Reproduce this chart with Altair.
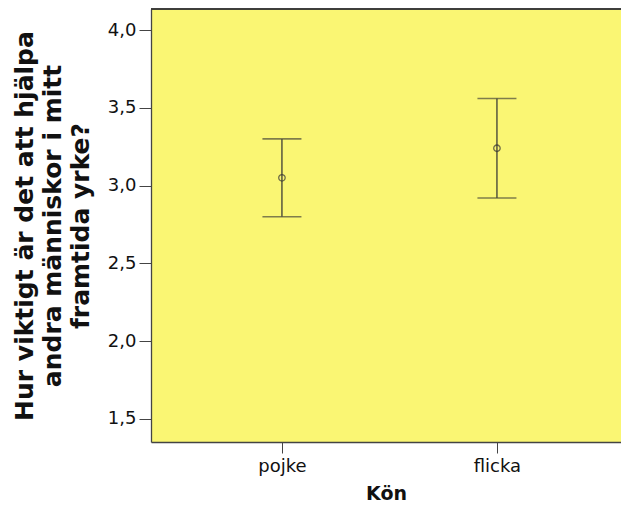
import altair as alt
import pandas as pd

categories = ["pojke", "flicka"]
means = [3.05, 3.24]
lower = [2.80, 2.92]
upper = [3.30, 3.56]

df = pd.DataFrame({"idx": list(range(len(categories))), "Kön": categories,
                   "mean": means, "lo": lower, "hi": upper})

W, H = 470, 433
line_col = "#4a4a3a"
label_expr = "[" + ",".join(f"'{c}'" for c in categories) + "][datum.value]"
x = alt.X("idx:Q",
          scale=alt.Scale(domain=[-0.609, 1.577], nice=False, zero=False),
          axis=alt.Axis(title="Kön", values=list(range(len(categories))),
                        labelExpr=label_expr, labelAngle=0, tickSize=11,
                        labelPadding=4, grid=False,
                        titleFontSize=19, titlePadding=9))
yscale = alt.Scale(domain=[1.352, 4.135], nice=False, zero=False)
yaxis = alt.Axis(title=["Hur viktigt är det att hjälpa", "andra människor i mitt", "framtida yrke?"],
                 values=[1.5, 2.0, 2.5, 3.0, 3.5, 4.0],
                 labelExpr="replace(format(datum.value, '.1f'), '.', ',')",
                 tickSize=12, labelPadding=3, grid=False,
                 titleFontSize=25, titleLineHeight=28, titleLimit=600,
                 titleX=-127, titleBaseline="middle")

base = alt.Chart(df)
rule = base.mark_rule(color=line_col, strokeWidth=1.4).encode(
    x=x, y=alt.Y("lo:Q", scale=yscale, axis=yaxis), y2="hi:Q")
tick_hi = base.mark_tick(color=line_col, size=39, thickness=1.6, orient="horizontal").encode(
    x=x, y=alt.Y("hi:Q", scale=yscale, axis=yaxis))
tick_lo = base.mark_tick(color=line_col, size=39, thickness=1.6, orient="horizontal").encode(
    x=x, y=alt.Y("lo:Q", scale=yscale, axis=yaxis))
pt = base.mark_point(filled=False, color="#333", size=42, strokeWidth=1.3).encode(
    x=x, y=alt.Y("mean:Q", scale=yscale, axis=yaxis))
top_border = alt.Chart(df).mark_rule(color="#333", strokeWidth=1.5).encode(
    x=alt.value(0), x2=alt.value(W), y=alt.value(0))

chart = alt.layer(rule, tick_hi, tick_lo, pt, top_border).properties(
    width=W, height=H,
    autosize=alt.AutoSizeParams(type="none"),
    padding={"left": 143, "top": 1, "right": 0, "bottom": 61},
).configure(
    font="DejaVu Sans",
    view=alt.ViewConfig(fill="#FAF673", stroke=None),
    axis=alt.AxisConfig(labelFontSize=18, titleFontWeight="bold",
                        domainColor="#444", domainWidth=1.3, tickColor="#444",
                        labelColor="#111", titleColor="#111"),
)

chart.save("out.html", embed_options={"renderer": "svg", "actions": False})
